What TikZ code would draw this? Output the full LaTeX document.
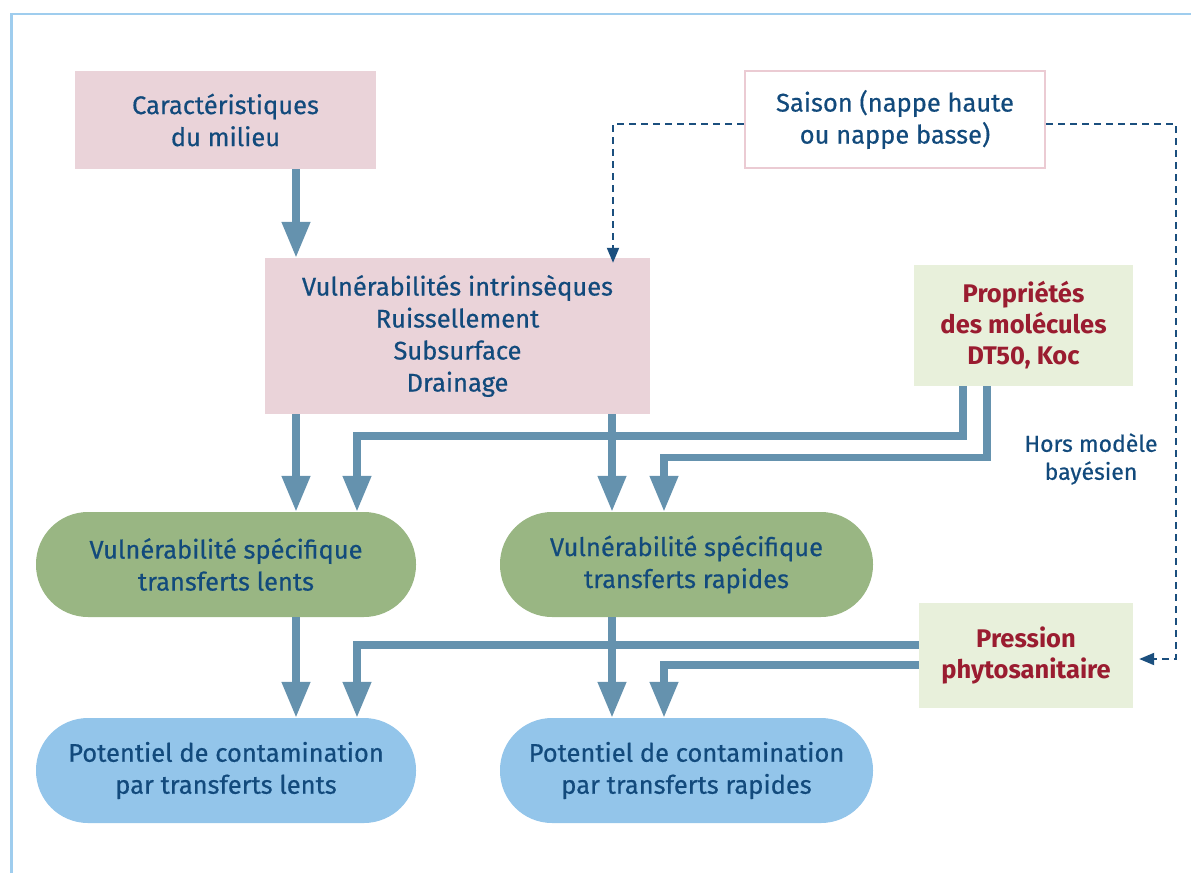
\documentclass[tikz,border=0pt]{standalone}
\usepackage{fontspec}
\setmainfont{Fira Sans}
\newfontfamily\medfont{Fira Sans}[FakeBold=0.5]
\usetikzlibrary{arrows.meta}
\definecolor{pinkfill}{HTML}{EAD3D9}
\definecolor{pinkline}{HTML}{EBCBD3}
\definecolor{greenfill}{HTML}{99B683}
\definecolor{lgreen}{HTML}{E8F0DB}
\definecolor{lblue}{HTML}{93C5EA}
\definecolor{flowcol}{HTML}{6592AE}
\definecolor{txtblue}{HTML}{124A7C}
\definecolor{txtred}{HTML}{9A1C30}
\definecolor{framecol}{HTML}{9FCDEE}
\definecolor{dashcol}{HTML}{1B4F7E}
\tikzset{
  box/.style={rectangle, inner sep=0pt, align=center, text=txtblue,
    font=\medfont\fontsize{25.5}{32}\selectfont},
  pinkbox/.style={box, fill=pinkfill},
  greenbox/.style={box, fill=lgreen, text=txtred,
    font=\fontsize{25.5}{31}\selectfont\bfseries},
  stadium/.style={box, rounded corners=52pt},
  flow/.style={draw=flowcol, line width=7.5pt,
    -{Triangle[width=27pt,length=36pt]}},
  dashflow/.style={draw=dashcol, line width=2pt, dash pattern=on 7pt off 5pt,
    -{Triangle[width=12pt,length=15pt]}},
}
\begin{document}
\begin{tikzpicture}[x=1pt,y=-1pt]
\useasboundingbox (0,0) rectangle (1191,873);
% frame
\draw[framecol, line width=2.6pt] (11.5,873) -- (11.5,14) -- (1191,14);
% nodes
\node[pinkbox, minimum width=301pt, minimum height=98pt] (car) at (225.5,120)
  {Caractéristiques\\du milieu};
\node[box, draw=pinkline, line width=2.5pt, fill=white, minimum width=300pt,
  minimum height=97pt] (sai) at (895,119.5) {Saison (nappe haute\\ou nappe basse)};
\node[pinkbox, minimum width=385pt, minimum height=156pt] (vul) at (457.5,336)
  {Vulnérabilités intrinsèques\\Ruissellement\\Subsurface\\Drainage};
\node[greenbox, minimum width=219pt, minimum height=121pt] (pro) at (1023.5,325.5)
  {Propriétés\\des molécules\\DT50, Koc};
\node[stadium, fill=greenfill, minimum width=380pt, minimum height=105pt] (vsl)
  at (226,564.5) {Vulnérabilité spécifique\\transferts lents};
\node[stadium, fill=greenfill, minimum width=373pt, minimum height=105pt] (vsr)
  at (686.5,564.5) {Vulnérabilité spécifique\\transferts rapides};
\node[stadium, fill=lblue, minimum width=380pt, minimum height=105pt] (pcl)
  at (226,770.5) {Potentiel de contamination\\par transferts lents};
\node[stadium, fill=lblue, minimum width=373pt, minimum height=105pt] (pcr)
  at (686.5,770.5) {Potentiel de contamination\\par transferts rapides};
\node[greenbox, minimum width=214pt, minimum height=105pt] (pre) at (1026,655.5)
  {Pression\\phytosanitaire};
\node[box, font=\medfont\fontsize{23}{28}\selectfont] (hors) at (1091,459)
  {Hors modèle\\bayésien};
% helper coordinates
\coordinate (xa) at (296,0);
\coordinate (xb) at (357,0);
\coordinate (xc) at (612,0);
\coordinate (xd) at (664,0);
\coordinate (xp1) at (963,0);
\coordinate (xp2) at (987,0);
\coordinate (h1) at (0,436);
\coordinate (h2) at (0,457.5);
\coordinate (h3) at (0,645);
\coordinate (h4) at (0,665);
\coordinate (hd) at (0,124);
\coordinate (xs1) at (613,0);
\coordinate (xs2) at (1176,0);
\coordinate (hp) at (0,659);
% flows
\draw[flow] (car.south -| xa) -- (vul.north -| xa);
\draw[flow] (vul.south -| xa) -- (vsl.north -| xa);
\draw[flow] (vul.south -| xc) -- (vsr.north -| xc);
\draw[flow] (pro.south -| xp1) |- (xb |- h1) -- (vsl.north -| xb);
\draw[flow] (pro.south -| xp2) |- (xd |- h2) -- (vsr.north -| xd);
\draw[flow] (vsl.south -| xa) -- (pcl.north -| xa);
\draw[flow] (vsr.south -| xc) -- (pcr.north -| xc);
\draw[flow] (pre.west |- h3) -- (xb |- h3) -- (pcl.north -| xb);
\draw[flow] (pre.west |- h4) -- (xd |- h4) -- (pcr.north -| xd);
% dashed
\draw[dashflow] (sai.west |- hd) -- (xs1 |- hd) -- ([yshift=-5pt]vul.north -| xs1);
\draw[dashflow] (sai.east |- hd) -- (xs2 |- hd) -- (xs2 |- hp) -- ([xshift=6pt]pre.east |- hp);
\end{tikzpicture}
\end{document}
